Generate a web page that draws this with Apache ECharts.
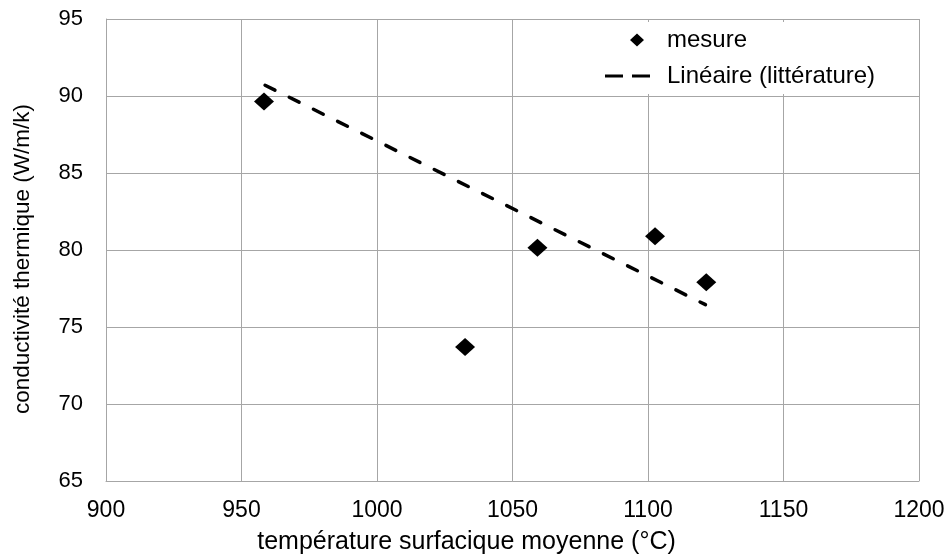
<!DOCTYPE html>
<html><head><meta charset="utf-8">
<script src="https://cdn.jsdelivr.net/npm/echarts@6/dist/echarts.min.js"></script>
<style>html,body{margin:0;padding:0;background:#fff}#c{width:951px;height:555px}</style>
</head><body><div id="c"></div>
<script>
const mesureX = [958.3, 1032.5, 1059.2, 1102.6, 1121.5];
const mesureY = [89.65, 73.7, 80.15, 80.9, 77.9];
const litX = [958.7, 1121.2];
const litY = [90.7, 76.45];
const seriesNames = ['mesure', 'Linéaire (littérature)'];
const xName = 'température surfacique moyenne (°C)';
const yName = 'conductivité thermique (W/m/k)';

const font = 'Liberation Sans, Arial, sans-serif';
const diamondIcon = 'path://M0,0L0,0ZM57,14L57,14ZM25,7L32,0.5L39,7L32,13.5Z';
const dashIcon = 'path://M0,0L0,0ZM57,14L57,14ZM0,5.5H18V8.5H0ZM27,5.5H45V8.5H27Z';
const chart = echarts.init(document.getElementById('c'));
chart.setOption({
  animation: false,
  textStyle: {fontFamily: font},
  grid: {left: 106, right: 32, top: 19, bottom: 74, containLabel: false, outerBoundsMode: 'none'},
  xAxis: {type: 'value', min: 900, max: 1200, interval: 50,
    name: xName, nameLocation: 'middle', nameGap: 49,
    nameTextStyle: {fontSize: 25, color: '#000', fontFamily: font, padding: [0, 92, 0, 0]},
    axisLine: {lineStyle: {color: '#a6a6a6'}}, axisTick: {show: false},
    axisLabel: {fontSize: 23, color: '#000', margin: 18, fontFamily: font,
      formatter: v => String(v)},
    splitLine: {lineStyle: {color: '#a6a6a6'}}},
  yAxis: {type: 'value', min: 65, max: 95, interval: 5,
    name: yName, nameLocation: 'middle', nameGap: 72,
    nameTextStyle: {fontSize: 22.5, color: '#000', fontFamily: font, padding: [0, 18, 0, 0]},
    axisLine: {show: true, lineStyle: {color: '#a6a6a6'}}, axisTick: {show: false},
    axisLabel: {fontSize: 22, color: '#000', margin: 23, fontFamily: font,
      formatter: v => String(v)},
    splitLine: {lineStyle: {color: '#a6a6a6'}}},
  legend: {orient: 'vertical', left: 598, top: 22, itemGap: 12,
    backgroundColor: '#fff', padding: [6, 20, 6, 7],
    itemWidth: 57, itemHeight: 14,
    textStyle: {fontSize: 24, color: '#000', fontFamily: font},
    data: [
      {name: seriesNames[0], icon: diamondIcon, itemStyle: {color: '#000', opacity: 1}},
      {name: seriesNames[1], icon: dashIcon, itemStyle: {color: '#000', opacity: 1}}
    ]},
  series: [
    {name: seriesNames[0], type: 'scatter', symbol: 'diamond', symbolSize: [20, 18],
     itemStyle: {color: '#000', opacity: 1},
     data: mesureX.map((x, i) => [x, mesureY[i]])},
    {name: seriesNames[1], type: 'line', symbol: 'none',
     lineStyle: {color: '#000', width: 3.5, type: [11, 16], cap: 'round'},
     itemStyle: {color: '#000'},
     data: litX.map((x, i) => [x, litY[i]])}
  ]
});
</script></body></html>
